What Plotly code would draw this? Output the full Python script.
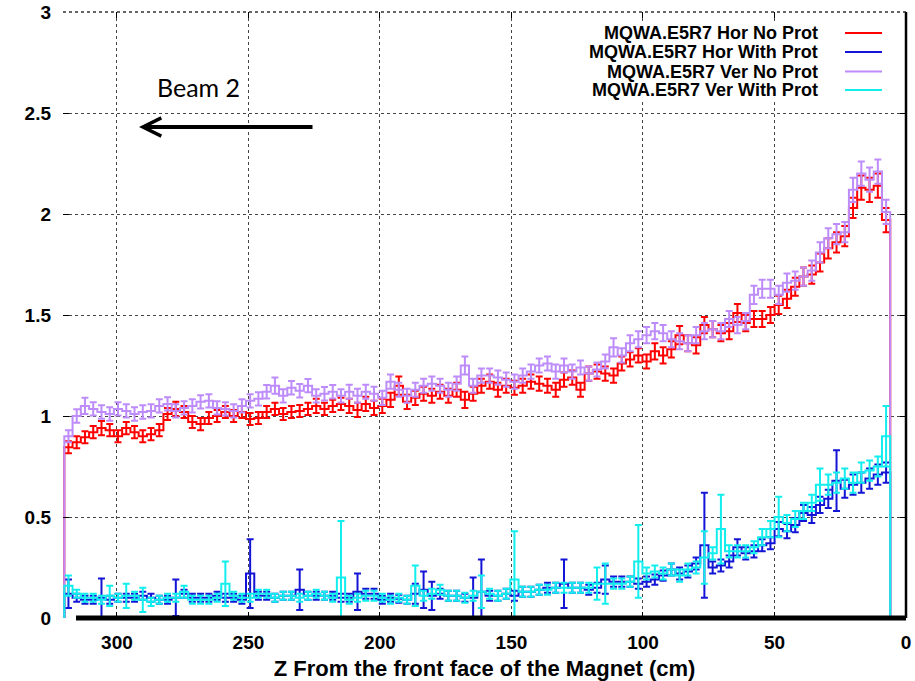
import numpy as np
import plotly.graph_objects as go

# Histogram binning along the magnet (cm from the front face)
Z_START = 320.0
Z_END = 6.0
N_BINS = 100

hor_no_prot = [
    0.845, 0.87, 0.895, 0.92, 0.94, 0.93, 0.90, 0.94, 0.92, 0.90, 0.91, 0.93, 1.01, 1.035, 1.02, 0.97, 0.96,
    0.99, 1.0, 1.02, 1.0, 1.02, 0.985, 0.99, 1.02, 1.035, 1.01, 1.02, 1.025, 1.035, 1.05, 1.035, 1.05, 1.06,
    1.05, 1.03, 1.06, 1.04, 1.05, 1.08, 1.15, 1.07, 1.09, 1.11, 1.10, 1.12, 1.10, 1.13, 1.08, 1.11, 1.15,
    1.17, 1.13, 1.15, 1.14, 1.15, 1.17, 1.16, 1.15, 1.13, 1.18, 1.19, 1.13, 1.21, 1.22, 1.21, 1.20, 1.26,
    1.28, 1.30, 1.27, 1.32, 1.30, 1.33, 1.40, 1.36, 1.35, 1.45, 1.43, 1.41, 1.42, 1.51, 1.46, 1.48, 1.48,
    1.50, 1.55, 1.58, 1.64, 1.69, 1.70, 1.76, 1.83, 1.86, 1.89, 2.03, 2.13, 2.12, 2.14, 1.97,
]
hor_no_prot_err = [
    0.03, 0.03, 0.03, 0.03, 0.035, 0.03, 0.03, 0.03, 0.03, 0.03, 0.03, 0.03, 0.03, 0.035, 0.03, 0.03, 0.03,
    0.03, 0.03, 0.03, 0.03, 0.03, 0.03, 0.03, 0.03, 0.03, 0.03, 0.03, 0.03, 0.03, 0.035, 0.03, 0.03, 0.03,
    0.035, 0.035, 0.035, 0.035, 0.035, 0.035, 0.045, 0.035, 0.035, 0.035, 0.035, 0.035, 0.035, 0.035, 0.04,
    0.035, 0.035, 0.035, 0.035, 0.035, 0.035, 0.035, 0.035, 0.035, 0.035, 0.035, 0.035, 0.035, 0.035,
    0.035, 0.035, 0.035, 0.035, 0.035,
    0.035, 0.035, 0.035, 0.04, 0.04, 0.04, 0.045, 0.04, 0.04, 0.04, 0.04, 0.04, 0.04, 0.045, 0.04, 0.04,
    0.04, 0.04, 0.045, 0.045, 0.045, 0.045, 0.045, 0.045, 0.05, 0.05, 0.05, 0.05, 0.06, 0.06, 0.06, 0.06,
]
hor_with_prot = [
    0.12, 0.10, 0.09, 0.09, 0.10, 0.09, 0.10, 0.10, 0.10, 0.11, 0.10, 0.09, 0.09, 0.10, 0.12, 0.10, 0.10,
    0.10, 0.11, 0.10, 0.10, 0.09, 0.22, 0.11, 0.11, 0.10, 0.11, 0.11, 0.14, 0.11, 0.11, 0.11, 0.11, 0.10,
    0.10, 0.13, 0.12, 0.12, 0.09, 0.10, 0.095, 0.09, 0.12, 0.14, 0.11, 0.12, 0.11, 0.11, 0.10, 0.10, 0.13,
    0.11, 0.11, 0.12, 0.11, 0.13, 0.13, 0.14, 0.15, 0.15, 0.17, 0.15, 0.15, 0.14, 0.15, 0.19, 0.18, 0.18,
    0.18, 0.17, 0.18, 0.19, 0.21, 0.24, 0.22, 0.23, 0.27, 0.36, 0.25, 0.26, 0.28, 0.35, 0.32, 0.33, 0.36,
    0.37, 0.44, 0.43, 0.46, 0.52, 0.51, 0.56, 0.59, 0.68, 0.64, 0.66, 0.67, 0.69, 0.71, 0.72,
]
hor_with_prot_err = [
    0.07, 0.02, 0.02, 0.02, 0.095, 0.02, 0.02, 0.02, 0.02, 0.02, 0.02, 0.02, 0.02, 0.09, 0.02, 0.02, 0.02,
    0.02, 0.02, 0.02, 0.02, 0.02, 0.17, 0.02, 0.02, 0.02, 0.02, 0.02, 0.10, 0.02, 0.02, 0.02, 0.02, 0.02,
    0.02, 0.09, 0.025, 0.025, 0.02, 0.02, 0.02, 0.02, 0.05, 0.09, 0.07, 0.025, 0.025, 0.025, 0.02, 0.10, 0.16,
    0.025, 0.025, 0.025, 0.025, 0.025, 0.025, 0.025, 0.025, 0.025, 0.12, 0.025, 0.025, 0.025, 0.025, 0.07,
    0.025, 0.025,
    0.025, 0.025, 0.025, 0.025, 0.025, 0.03, 0.03, 0.03, 0.03, 0.26, 0.03, 0.03, 0.03, 0.04, 0.03, 0.03,
    0.03, 0.03, 0.035, 0.035, 0.035, 0.04, 0.04, 0.04, 0.045, 0.15, 0.045, 0.05, 0.05, 0.05, 0.05, 0.05,
]
ver_no_prot = [
    0.90, 1.00, 1.05, 1.035, 1.02, 1.01, 1.035, 1.025, 1.01, 1.02, 1.025, 1.05, 1.06, 1.025, 1.04, 1.05, 1.07,
    1.075, 1.04, 1.035, 1.025, 1.05, 1.075, 1.085, 1.12, 1.15, 1.10, 1.14, 1.125, 1.15, 1.10, 1.11, 1.12, 1.10,
    1.12, 1.10, 1.12, 1.11, 1.09, 1.17, 1.13, 1.10, 1.13, 1.15, 1.16, 1.15, 1.13, 1.16, 1.25, 1.15, 1.20,
    1.20, 1.19, 1.18, 1.17, 1.20, 1.22, 1.25, 1.26, 1.22, 1.25, 1.22, 1.24, 1.21, 1.23, 1.27, 1.34, 1.30,
    1.36, 1.38, 1.40, 1.42, 1.41, 1.38, 1.37, 1.36, 1.40, 1.42, 1.43, 1.42, 1.48, 1.45, 1.47, 1.60, 1.63,
    1.63, 1.60, 1.66, 1.67, 1.69, 1.72, 1.81, 1.88, 1.90, 1.91, 2.12, 2.20, 2.17, 2.21, 2.01,
]
ver_no_prot_err = [
    0.03, 0.033, 0.04, 0.033, 0.033, 0.033, 0.033, 0.033, 0.033, 0.033, 0.033, 0.033, 0.033, 0.033, 0.033,
    0.033, 0.033, 0.033, 0.033, 0.033, 0.033, 0.033, 0.033, 0.033, 0.033, 0.04, 0.033, 0.033, 0.033, 0.033,
    0.033, 0.033, 0.033, 0.033,
    0.035, 0.035, 0.035, 0.035, 0.035, 0.035, 0.035, 0.035, 0.035, 0.035, 0.035, 0.035, 0.035, 0.035, 0.045,
    0.035, 0.035, 0.035, 0.035, 0.035, 0.035, 0.035, 0.035, 0.035, 0.035, 0.035, 0.035, 0.035, 0.035, 0.035,
    0.035, 0.035, 0.045, 0.035,
    0.04, 0.04, 0.04, 0.04, 0.04, 0.04, 0.04, 0.04, 0.04, 0.04, 0.04, 0.04, 0.04, 0.04, 0.04, 0.045, 0.045,
    0.045, 0.045, 0.045, 0.045, 0.045, 0.05, 0.05, 0.05, 0.05, 0.05, 0.06, 0.06, 0.06, 0.06, 0.06,
]
ver_with_prot = [
    0.16, 0.12, 0.10, 0.10, 0.09, 0.11, 0.10, 0.11, 0.11, 0.09, 0.08, 0.09, 0.10, 0.10, 0.13, 0.09, 0.09,
    0.09, 0.10, 0.17, 0.11, 0.10, 0.10, 0.12, 0.12, 0.10, 0.11, 0.11, 0.10, 0.11, 0.12, 0.11, 0.10, 0.20,
    0.09, 0.10, 0.11, 0.11, 0.10, 0.09, 0.10, 0.09, 0.16, 0.11, 0.12, 0.14, 0.11, 0.11, 0.10, 0.11, 0.13,
    0.12, 0.11, 0.12, 0.19, 0.13, 0.13, 0.14, 0.14, 0.15, 0.15, 0.15, 0.15, 0.15, 0.17, 0.17, 0.17, 0.17,
    0.18, 0.28, 0.22, 0.23, 0.22, 0.24, 0.21, 0.24, 0.25, 0.30, 0.32, 0.44, 0.33, 0.33, 0.33, 0.35, 0.40,
    0.44, 0.50, 0.47, 0.49, 0.53, 0.57, 0.66, 0.66, 0.67, 0.69, 0.67, 0.72, 0.73, 0.75, 0.90,
]
ver_with_prot_err = [
    0.05, 0.02, 0.02, 0.02, 0.02, 0.05, 0.02, 0.06, 0.02, 0.06, 0.02, 0.02, 0.02, 0.02, 0.03, 0.02, 0.02,
    0.02, 0.02, 0.11, 0.02, 0.02, 0.02, 0.02, 0.02, 0.02, 0.02, 0.02, 0.02, 0.02, 0.02, 0.02, 0.02, 0.28,
    0.02, 0.02, 0.025, 0.025, 0.02, 0.02, 0.02, 0.02, 0.10, 0.025, 0.025, 0.025, 0.025, 0.025, 0.025, 0.025,
    0.08, 0.025, 0.025, 0.025, 0.24, 0.025, 0.025, 0.025, 0.025, 0.025, 0.025, 0.025, 0.025, 0.025, 0.08,
    0.10, 0.025, 0.025,
    0.025, 0.18, 0.03, 0.03, 0.03, 0.03, 0.03, 0.03, 0.03, 0.13, 0.03, 0.17, 0.03, 0.03, 0.03, 0.03, 0.04,
    0.04, 0.10, 0.04, 0.04, 0.04, 0.04, 0.08, 0.05, 0.05, 0.05, 0.05, 0.05, 0.05, 0.05, 0.15,
]

series = [
    ("MQWA.E5R7 Hor No Prot", hor_no_prot, hor_no_prot_err, "#ff0000"),
    ("MQWA.E5R7 Hor With Prot", hor_with_prot, hor_with_prot_err, "#1414d6"),
    ("MQWA.E5R7 Ver No Prot", ver_no_prot, ver_no_prot_err, "#bd8cfa"),
    ("MQWA.E5R7 Ver With Prot", ver_with_prot, ver_with_prot_err, "#12eeee"),
]

edges = np.linspace(Z_START, Z_END, N_BINS + 1)
centers = 0.5 * (edges[:-1] + edges[1:])

fig = go.Figure()
for name, vals, errs, color in series:
    # histogram outline, closed down to zero at both ends
    xs = [edges[0]] + list(edges) + [edges[-1]]
    ys = [0.0] + list(vals) + [vals[-1], 0.0]
    fig.add_trace(go.Scatter(
        x=xs, y=ys, mode="lines", line=dict(color=color, width=2, shape="hv"),
        name=name, showlegend=False, hoverinfo="skip",
    ))
    fig.add_trace(go.Scatter(
        x=centers, y=vals, mode="markers", marker=dict(size=1, color=color),
        error_y=dict(type="data", array=errs, visible=True, color=color, thickness=2, width=3.5),
        showlegend=False, name=name,
    ))

# plot-area geometry in pixels, used to place the legend
W, H = 915, 681
ML, MR, MT, MB = 63, 9, 12, 63
PW, PH = W - ML - MR, H - MT - MB


def px_x(p):
    return (p - ML) / PW


def px_y(p):
    return (H - MB - p) / PH


shapes = []
annotations = []

label_font = dict(family="Liberation Sans, Arial", size=18, color="black", weight="bold")

# white legend panel
shapes.append(dict(type="rect", xref="paper", yref="paper",
                   x0=px_x(583), x1=px_x(899), y0=px_y(101), y1=px_y(21),
                   fillcolor="white", line=dict(width=0), layer="above"))
row_y = [33, 52, 71.5, 90]
for (name, _, _, color), ry in zip(series, row_y):
    annotations.append(dict(xref="paper", yref="paper", x=px_x(820), y=px_y(ry),
                            xanchor="right", yanchor="middle", showarrow=False, text=name,
                            font=label_font))
    shapes.append(dict(type="line", xref="paper", yref="paper",
                       x0=px_x(845), x1=px_x(882), y0=px_y(ry), y1=px_y(ry),
                       line=dict(color=color, width=2), layer="above"))

# frame: dotted top, solid right, heavy baseline
shapes.append(dict(type="line", xref="paper", yref="paper", x0=0, x1=1, y0=1, y1=1,
                   line=dict(color="#333333", width=1.5, dash="dot")))
shapes.append(dict(type="line", xref="paper", yref="paper", x0=1, x1=1, y0=0, y1=1,
                   line=dict(color="black", width=2.5)))
shapes.append(dict(type="line", xref="paper", yref="paper", x0=px_x(76), x1=1, y0=0, y1=0,
                   line=dict(color="black", width=5), layer="above"))

# beam direction label and arrow
annotations.append(dict(xref="paper", yref="paper", x=px_x(198), y=px_y(87), showarrow=False,
                        text="Beam 2", font=dict(family="Lato, Open Sans", size=25, color="black"),
                        xanchor="center", yanchor="middle"))
annotations.append(dict(xref="paper", yref="paper", x=px_x(139), y=px_y(127),
                        ax=175, ay=0, axref="pixel", ayref="pixel", showarrow=True,
                        arrowhead=5, arrowsize=0.9, arrowwidth=4, arrowcolor="black", text=""))

tick_font = dict(family="Liberation Sans, Arial", size=19, color="black", weight="bold")
title_font = dict(family="Liberation Sans, Arial", size=22, color="black", weight="bold")

fig.update_layout(
    width=W, height=H,
    margin=dict(l=ML, r=MR, t=MT, b=MB, autoexpand=False),
    paper_bgcolor="white", plot_bgcolor="white",
    showlegend=False,
    shapes=shapes, annotations=annotations,
    xaxis=dict(
        range=[320.5, 0], tickvals=[300, 250, 200, 150, 100, 50, 0],
        ticktext=["300", "250", "200", "150", "100", "50", "0"],
        showgrid=True, gridcolor="#444444", griddash="dot", gridwidth=1,
        zeroline=False, showline=False, ticks="inside", ticklen=6, tickcolor="black",
        mirror="ticks", tickfont=tick_font, ticklabelstandoff=11, automargin=False,
        title=dict(text="Z From the front face of the Magnet (cm)", font=title_font, standoff=8),
    ),
    yaxis=dict(
        range=[0, 3], tickvals=[0, 0.5, 1, 1.5, 2, 2.5, 3],
        ticktext=["0", "0.5", "1", "1.5", "2", "2.5", "3"],
        showgrid=True, gridcolor="#444444", griddash="dot", gridwidth=1,
        zeroline=False, showline=False, ticks="inside", ticklen=6, tickcolor="black",
        mirror="ticks", tickfont=tick_font, ticklabelstandoff=11, automargin=False,
    ),
)

fig.write_html("out.html")
